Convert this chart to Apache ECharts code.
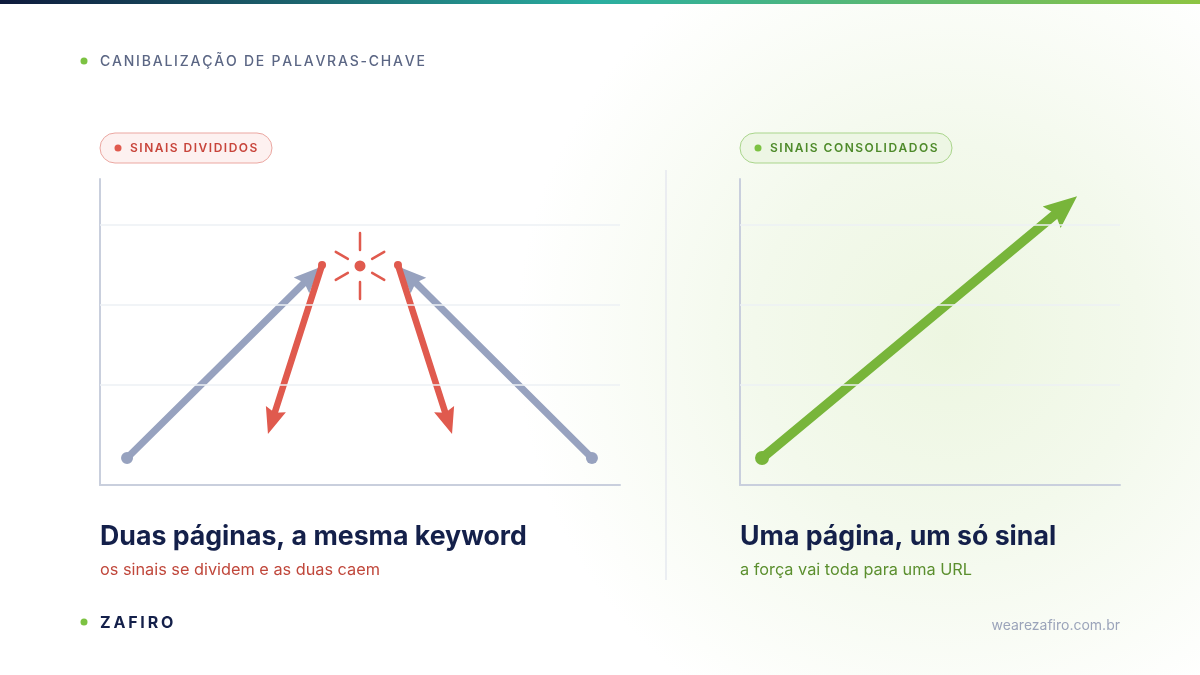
<!DOCTYPE html>
<html>
<head>
	<meta charset="utf-8" />
	<title>Canibalização de palavras-chave</title>
	<script src="https://cdn.jsdelivr.net/npm/echarts@6.0.0/dist/echarts.min.js"></script>
	<style>
		html, body { margin: 0; padding: 0; background: #fff; }
		#main { width: 1200px; height: 675px; }
	</style>
</head>
<body>
	<div id="main"></div>
<script type="text/javascript">
	// valores (eixos 0..100 nos dois painéis)
	var gridLevels = [32.7, 58.8, 85.0];
	// [x0, y0, x1, y1]
	var grayArrows = [[5.2, 8.8, 42.3, 71.2], [94.6, 8.8, 57.7, 71.2]];
	var redArrows = [[42.7, 71.9, 32.3, 16.7], [57.3, 71.9, 67.7, 16.7]];
	var clashPoint = [[50, 71.6]];
	var greenArrow = [[5.8, 8.8, 88.7, 94.4]];

	var FONT = 'Inter, "Noto Sans", sans-serif';
	var NAVY = '#14204a';

	// texto com espaçamento entre letras (o canvas do zrender não tem letterSpacing)
	var measureCtx = document.createElement('canvas').getContext('2d');
	function tracked(text, x, y, font, fill, spacing) {
		measureCtx.font = font;
		var cx = x, children = [];
		for (var i = 0; i < text.length; i++) {
			var ch = text.charAt(i);
			children.push({
				type: 'text', x: cx, y: y,
				style: { text: ch, fill: fill, font: font, textVerticalAlign: 'middle' }
			});
			cx += measureCtx.measureText(ch).width + spacing;
		}
		return { type: 'group', children: children };
	}

	function arrowRenderer(opt) {
		return function(params, api) {
			var p0 = api.coord([api.value(0), api.value(1)]);
			var p1 = api.coord([api.value(2), api.value(3)]);
			var dx = p1[0] - p0[0], dy = p1[1] - p0[1];
			var len = Math.sqrt(dx * dx + dy * dy);
			var ux = dx / len, uy = dy / len;
			var nx = -uy, ny = ux;
			var L = opt.headLen, W = opt.headWidth / 2;
			var bx = p1[0] - ux * L, by = p1[1] - uy * L;
			var mx = p1[0] - ux * L * 0.85, my = p1[1] - uy * L * 0.85;
			var children = [{
				type: 'line',
				shape: { x1: p0[0], y1: p0[1], x2: mx, y2: my },
				style: { stroke: opt.color, lineWidth: opt.width, lineCap: 'round' }
			}, {
				type: 'polygon',
				shape: { points: [[p1[0], p1[1]], [bx + nx * W, by + ny * W], [mx, my], [bx - nx * W, by - ny * W]] },
				style: { fill: opt.color }
			}];
			if (opt.startRadius) {
				children.push({
					type: 'circle',
					shape: { cx: p0[0], cy: p0[1], r: opt.startRadius },
					style: { fill: opt.color }
				});
			}
			return { type: 'group', children: children };
		};
	}

	function burstRenderer(params, api) {
		var c = api.coord([api.value(0), api.value(1)]);
		var color = '#e05a4e';
		var rays = [[-90, 16, 33], [90, 16, 33], [-30, 14, 28], [30, 14, 28], [150, 14, 28], [210, 14, 28]];
		var children = rays.map(function(r) {
			var a = r[0] * Math.PI / 180;
			return {
				type: 'line',
				shape: {
					x1: c[0] + Math.cos(a) * r[1], y1: c[1] + Math.sin(a) * r[1],
					x2: c[0] + Math.cos(a) * r[2], y2: c[1] + Math.sin(a) * r[2]
				},
				style: { stroke: color, lineWidth: 2.5, lineCap: 'round' }
			};
		});
		children.push({ type: 'circle', shape: { cx: c[0], cy: c[1], r: 5.5 }, style: { fill: color } });
		return { type: 'group', children: children };
	}

	function gridMarks() {
		return {
			silent: true,
			symbol: 'none',
			label: { show: false },
			lineStyle: { color: '#edf0f5', width: 1.5, type: 'solid' },
			data: gridLevels.map(function(v) { return { yAxis: v }; })
		};
	}

	function pill(x, y, w, text, fill, border, dot, textColor) {
		return [{
			type: 'rect', shape: { x: x, y: y, width: w, height: 30, r: 15 },
			style: { fill: fill, stroke: border, lineWidth: 1 }
		}, {
			type: 'circle', shape: { cx: x + 18, cy: y + 15, r: 3.5 }, style: { fill: dot }
		}, tracked(text, x + 30, y + 15, '600 12px ' + FONT, textColor, 1.5)];
	}

	var axisLineStyle = { show: true, lineStyle: { color: '#c9cfdd', width: 2 } };
	function valueAxis(idx) {
		return {
			type: 'value', gridIndex: idx, min: 0, max: 100,
			axisLine: axisLineStyle, axisTick: { show: false },
			axisLabel: { show: false }, splitLine: { show: false }
		};
	}

	var myChart = echarts.init(document.getElementById('main'), null, { renderer: 'canvas' });
	var option = {
		animation: false,
		backgroundColor: '#ffffff',
		grid: [
			{ left: 100, top: 179, width: 520, height: 306 },
			{ left: 740, top: 179, width: 380, height: 306 }
		],
		xAxis: [valueAxis(0), valueAxis(1)],
		yAxis: [valueAxis(0), valueAxis(1)],
		graphic: [].concat([{
			type: 'rect', z: -100, silent: true,
			shape: { x: 0, y: 0, width: 1200, height: 675 },
			style: {
				fill: {
					type: 'radial', x: 0.79, y: 0.5, r: 0.64,
					colorStops: [
						{ offset: 0, color: '#edf6e1' },
						{ offset: 0.45, color: '#f3f9ec' },
						{ offset: 1, color: '#ffffff' }
					]
				}
			}
		}, {
			type: 'rect', z: -50, silent: true,
			shape: { x: 0, y: 0, width: 1200, height: 4 },
			style: {
				fill: {
					type: 'linear', x: 0, y: 0, x2: 1, y2: 0,
					colorStops: [
						{ offset: 0, color: '#0e1a3c' },
						{ offset: 0.5, color: '#2aaea0' },
						{ offset: 1, color: '#8dc442' }
					]
				}
			}
		}, {
			type: 'circle', shape: { cx: 84, cy: 61, r: 3.5 }, style: { fill: '#7cc242' }
		},
		tracked('CANIBALIZAÇÃO DE PALAVRAS-CHAVE', 100, 62, '500 14px ' + FONT, '#5b6684', 1.78),
		{
			type: 'line', shape: { x1: 666, y1: 170, x2: 666, y2: 580 },
			style: { stroke: '#e6e9ef', lineWidth: 1.5 }
		}],
		pill(100, 133, 172, 'SINAIS DIVIDIDOS', '#fdf1f0', '#eba7a1', '#e05a4e', '#c8453b'),
		pill(740, 133, 212, 'SINAIS CONSOLIDADOS', '#edf6e4', '#a9d58b', '#7cc242', '#4e8a2a'),
		[{
			type: 'text', x: 100, y: 537,
			style: { text: 'Duas páginas, a mesma keyword', fill: NAVY, font: '700 26.7px ' + FONT, textVerticalAlign: 'middle' }
		}, {
			type: 'text', x: 100, y: 570,
			style: { text: 'os sinais se dividem e as duas caem', fill: '#c0473b', font: '400 16.3px ' + FONT, textVerticalAlign: 'middle' }
		}, {
			type: 'text', x: 740, y: 537,
			style: { text: 'Uma página, um só sinal', fill: NAVY, font: '700 26.7px ' + FONT, textVerticalAlign: 'middle' }
		}, {
			type: 'text', x: 740, y: 570,
			style: { text: 'a força vai toda para uma URL', fill: '#5b8f2e', font: '400 16.3px ' + FONT, textVerticalAlign: 'middle' }
		}, {
			type: 'circle', shape: { cx: 84, cy: 622, r: 3.5 }, style: { fill: '#7cc242' }
		},
		tracked('ZAFIRO', 100, 623, '700 16px ' + FONT, NAVY, 2.8),
		{
			type: 'text', x: 1120, y: 626,
			style: { text: 'wearezafiro.com.br', fill: '#9ba4ba', font: '400 14px ' + FONT, textAlign: 'right', textVerticalAlign: 'middle' }
		}]),
		series: [{
			type: 'custom', name: 'grade', xAxisIndex: 0, yAxisIndex: 0, silent: true,
			data: [], renderItem: function() { return null; },
			markLine: gridMarks()
		}, {
			type: 'custom', name: 'grade2', xAxisIndex: 1, yAxisIndex: 1, silent: true,
			data: [], renderItem: function() { return null; },
			markLine: gridMarks()
		}, {
			type: 'custom', name: 'páginas', xAxisIndex: 0, yAxisIndex: 0,
			data: grayArrows,
			renderItem: arrowRenderer({ color: '#97a2bf', width: 7, headLen: 26, headWidth: 22, startRadius: 6 })
		}, {
			type: 'custom', name: 'queda', xAxisIndex: 0, yAxisIndex: 0,
			data: redArrows,
			renderItem: arrowRenderer({ color: '#e05a4e', width: 6.5, headLen: 26, headWidth: 21, startRadius: 4 })
		}, {
			type: 'custom', name: 'conflito', xAxisIndex: 0, yAxisIndex: 0,
			data: clashPoint,
			renderItem: burstRenderer
		}, {
			type: 'custom', name: 'sinal', xAxisIndex: 1, yAxisIndex: 1,
			data: greenArrow,
			renderItem: arrowRenderer({ color: '#78b53a', width: 9.5, headLen: 33, headWidth: 28, startRadius: 7 })
		}]
	};
	myChart.setOption(option);
</script>
</body>
</html>
